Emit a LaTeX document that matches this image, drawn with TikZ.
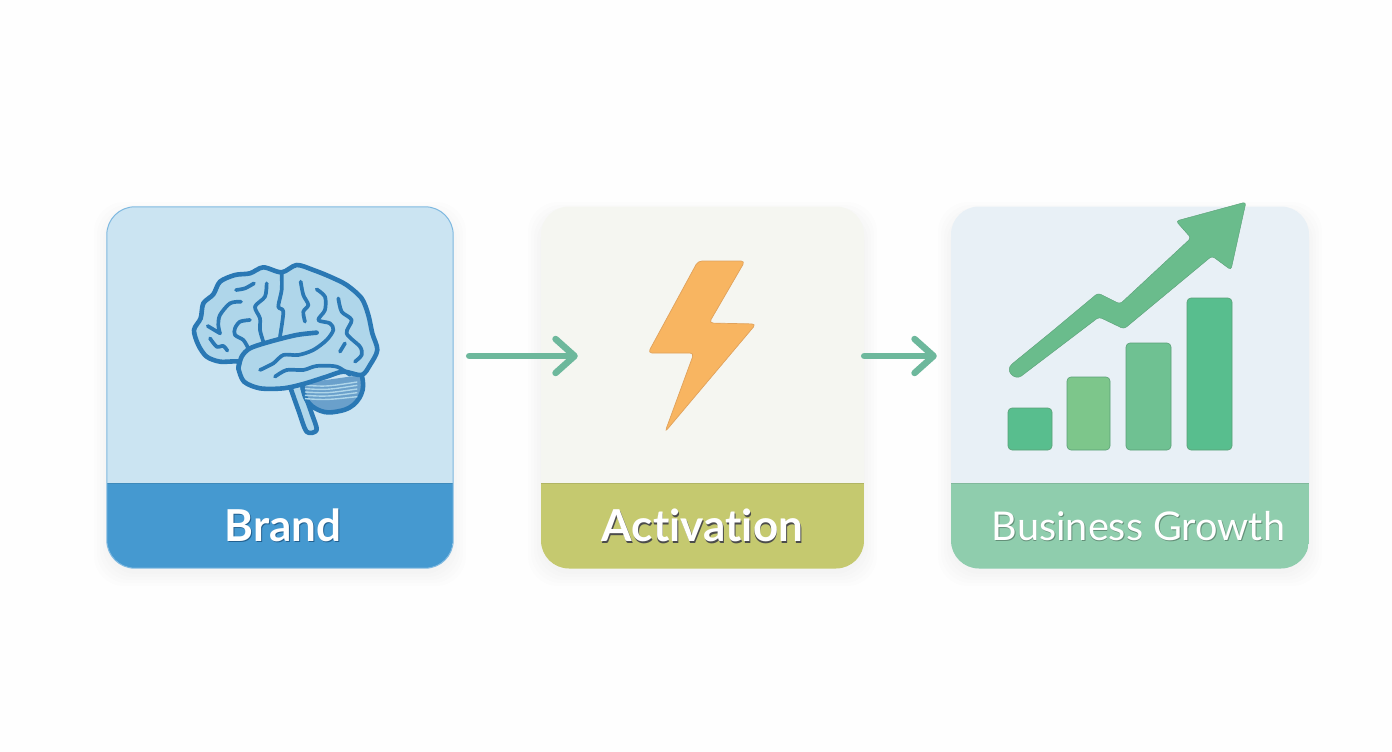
\documentclass[tikz,border=0pt]{standalone}
\usepackage{fontspec}
\setmainfont{Lato}[Ligatures=NoCommon]
\usepackage{tikz}
\usetikzlibrary{arrows.meta,positioning,calc}

\definecolor{brandpale}{HTML}{CBE4F2}
\definecolor{brandband}{HTML}{4599D0}
\definecolor{brandline}{HTML}{7DB8E0}
\definecolor{brainline}{HTML}{2A78B4}
\definecolor{brainfill}{HTML}{AFD6EA}
\definecolor{actpale}{HTML}{F5F6F1}
\definecolor{actband}{HTML}{C5C96F}
\definecolor{growpale}{HTML}{E8F0F6}
\definecolor{growband}{HTML}{8FCDAD}
\definecolor{flowgreen}{HTML}{6DB89C}
\definecolor{boltfill}{HTML}{F8B561}
\definecolor{boltline}{HTML}{E0A25C}
\definecolor{risefill}{HTML}{6ABC8C}

\newcommand{\cardlabel}[6]{%
  \node[labeltext,font=\fontsize{#6}{48}\selectfont#5,text=#4,xshift=.8pt,yshift=-1.4pt] at (#1) {#3};
  \node[labeltext,font=\fontsize{#6}{48}\selectfont#5] (#2) at (#1) {#3};
}

\begin{document}
\begin{tikzpicture}[x=1pt,y=-1pt,
    card/.style n args={2}{rectangle,rounded corners=28pt,fill=#1,inner sep=0pt,
      path picture={\fill[#2,sharp corners] ($(path picture bounding box.south west)+(0,-85)$) rectangle (path picture bounding box.south east);
        \draw[#2!90!black,line width=.8pt,sharp corners] ($(path picture bounding box.south west)+(0,-85)$) -- ($(path picture bounding box.south east)+(0,-85)$);}},
    labeltext/.style={text=white,inner sep=0pt},
    flow/.style={draw=flowgreen,line width=6.5pt,line cap=round,-{Straight Barb[round,length=19pt,width=34pt]}},
    brainstroke/.style={draw=brainline,line width=4.6pt,line cap=round,line join=round},
    sulcus/.style={brainstroke,line width=3.7pt},
    bar/.style={rounded corners=4pt,draw=risefill!85!black,line width=.6pt}]
        \fill[white!99.6!black] (0,0) rectangle (1392,752);
        \useasboundingbox (0,0) rectangle (1392,752);

        % soft shadows under the cards
        \foreach \cx/\cw/\ch in {280/346/361,702.5/323/362,1130/358/362}
          \foreach \grow in {1,4,...,13}
            \fill[black,opacity=.006,rounded corners=30pt] (\cx-\cw/2-\grow,207-\grow+8) rectangle (\cx+\cw/2+\grow,568+\grow+5);

        \node[card={brandpale}{brandband},minimum width=346pt,minimum height=361pt] (brand) at (280,387.5) {};
        \draw[brandline,line width=1pt,rounded corners=28pt] (brand.south west) rectangle (brand.north east);
        \node[card={actpale}{actband},minimum width=323pt,minimum height=362pt] (activation) at (702.5,387.5) {};
        \node[card={growpale}{growband},minimum width=358pt,minimum height=362pt] (growth) at (1130,387.5) {};

        \cardlabel{$(brand.south)+(3,-43)$}{brandlabel}{Brand}{brainline!80!black}{\bfseries}{44}
        \cardlabel{$(activation.south)+(0,-43)$}{activationlabel}{Activation}{black!70}{\bfseries}{44}
        \cardlabel{$(growth.south)+(8.5,-43)$}{growthlabel}{Business Growth}{black!30!growband}{}{39.6}

        % brain, traced in a 3x grid
        \begin{scope}[shift={(170,240)},x=.3333pt,y=-.3333pt]
          \draw[brainstroke,fill=brainfill] plot[smooth,tension=.5] coordinates {(362,445)(385,510)(410,575)(440,570)(425,520)(398,445)};
          \draw[brainstroke,fill=brainline!70!white] plot[smooth,tension=.7] coordinates {(396,430)(410,480)(450,512)(500,515)(550,495)(578,450)(575,405)};
          \foreach \sy/\ey in {436/426,446/436,456/447,466/458,476/470}
            \draw[brainfill,line width=1.4pt] (405,\sy) .. controls (470,\sy+4) .. (562,\ey);
          \draw[brainstroke,fill=brainfill] plot[smooth cycle,tension=.5] coordinates {(205,365)(150,365)(110,350)(85,315)(72,270)(92,235)(100,190)(130,163)(150,125)(195,105)(240,100)(280,82)(335,97)(380,75)(430,90)(480,110)(530,135)(575,175)(595,225)(607,280)(622,330)(600,375)(575,405)(520,395)(470,410)(400,432)(340,445)(270,445)(222,425)(205,385)};
          \draw[brainstroke] plot[smooth,tension=.5] coordinates {(440,278)(380,285)(300,305)(240,325)(215,350)(205,385)};
          \foreach \wiggle in {%
            {(198,150)(225,145)(252,130)},
            {(213,185)(180,190)(150,225)(145,255)(150,280)},
            {(113,258)(150,280)},
            {(120,295)(140,320)(160,318)(172,332)},
            {(240,240)(210,245)(195,265)(195,285)(220,300)(235,325)},
            {(290,130)(285,170)(255,200)(270,235)(270,270)(280,305)},
            {(335,97)(335,150)(325,200)(340,215)(330,290)},
            {(392,125)(400,165)(415,195)(400,215)(405,245)},
            {(440,148)(465,170)(465,210)(445,240)(480,250)(490,270)(470,300)(430,330)(385,345)(340,345)(310,370)(270,390)},
            {(505,175)(515,215)(545,240)(530,280)(570,320)(575,345)(555,365)},
            {(525,310)(510,335)},
            {(315,410)(350,390)(400,390)(440,378)(500,380)(540,405)}}
            \draw[sulcus] plot[smooth,tension=.5] coordinates \wiggle;
        \end{scope}

        % bolt
        \draw[fill=boltfill,draw=boltline,line width=.7pt,rounded corners=4pt] (698,261) -- (745,261) -- (709,323) -- (756,324) -- (665,432) -- (694,353) -- (648,353) -- cycle;

        % rising arrow and bars
        \draw[fill=risefill,draw=risefill!85!black,line width=.4pt,rounded corners=3pt] (1050,333) -- (1098,293) -- (1120,304) -- (1191,238) -- (1176,221) -- (1246,202) -- (1231,270) -- (1212,256) -- (1124,329) -- (1099,317) -- (1024,374) [sharp corners] .. controls (1015,381) and (1004,371) .. (1012,364) -- cycle;
        \foreach \bx/\bw/\btop/\bcol in {1008/44/408/58BE8E,1067/43/377/7DC68B,1126/45/343/6FC192,1187/45/298/58BE8E} {
          \definecolor{barcol}{HTML}{\bcol}
          \draw[bar,fill=barcol] (\bx,\btop) rectangle (\bx+\bw,450);
        }

        % connectors
        \coordinate (brandflow) at ($(brand.east)+(16,-31.5)$);
        \coordinate (activationin) at ($(activation.west)+(37,-31.5)$);
        \coordinate (activationflow) at ($(activation.east)+(0,-31.5)$);
        \coordinate (growthin) at ($(growth.west)+(-14,-31.5)$);
        \draw[flow] (brandflow) -- (activationin);
        \draw[flow] (activationflow) -- (growthin);
\end{tikzpicture}
\end{document}
